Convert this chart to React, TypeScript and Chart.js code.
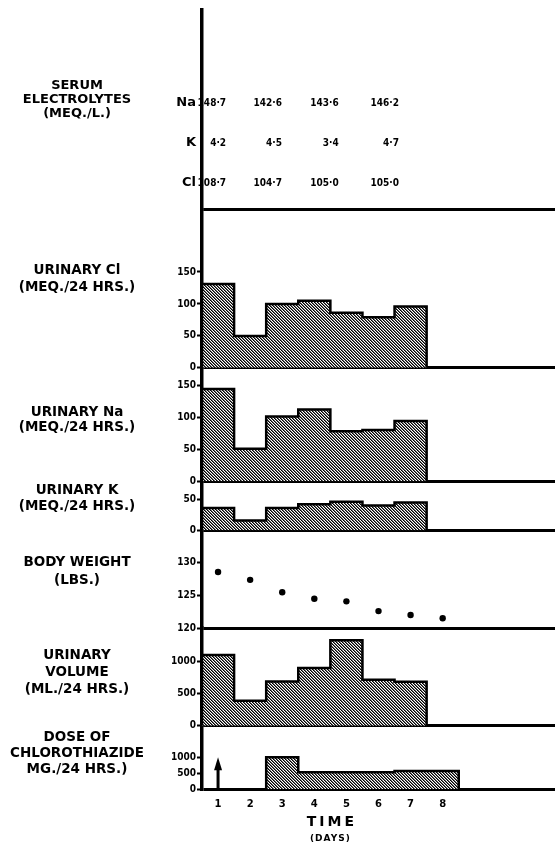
import React, { useEffect, useRef } from 'react';
import { Chart, registerables } from 'chart.js';

Chart.register(...registerables);

// ---------- data ----------
const dayTicks = [1, 2, 3, 4, 5, 6, 7, 8];
const urineDays = [1, 2, 3, 4, 5, 6, 7];
const urinaryCl = [131, 50, 100, 105, 86, 79, 96];
const urinaryNa = [144, 51, 101, 112, 78, 80, 94];
const urinaryK = [36, 16, 36, 42, 46, 40, 45];
const urinaryVolume = [1100, 390, 690, 900, 1330, 715, 685];
const weightDays = [1, 2, 3, 4, 5, 6, 7, 8];
const bodyWeight = [128.6, 127.4, 125.5, 124.5, 124.1, 122.6, 122.0, 121.5];
const doseDays = [3, 4, 5, 6, 7, 8];
const doseMg = [1000, 530, 530, 530, 570, 570];
const doseArrowDay = 1;
const doseArrowMg = 1000;

const serumRowLabels = ['Na', 'K', 'Cl'];
const serumNa = ['148·7', '142·6', '143·6', '146·2'];
const serumK = ['4·2', '4·5', '3·4', '4·7'];
const serumCl = ['108·7', '104·7', '105·0', '105·0'];
const serumDays = [1.25, 2.99, 4.76, 6.64];

const clTicks = [0, 50, 100, 150];
const naTicks = [0, 50, 100, 150];
const kTicks = [0, 50];
const bwTicks = [120, 125, 130];
const volTicks = [0, 500, 1000];
const doseTicks = [0, 500, 1000];

// ---------- layout / style ----------
const FONT = "'DejaVu Sans', sans-serif";
const COND_FONT = "'DejaVu Sans Condensed', 'DejaVu Sans', sans-serif";
const LABEL_X = 77;

const panelLabels = [
  { axis: 'serum', lines: ['SERUM', 'ELECTROLYTES', '(MEQ./L.)'], dy: 76, lh: 14, size: 13 },
  { axis: 'cl', lines: ['URINARY Cl', '(MEQ./24 HRS.)'], dy: 61, lh: 17, size: 13.5 },
  { axis: 'na', lines: ['URINARY Na', '(MEQ./24 HRS.)'], dy: 45, lh: 15, size: 13.5 },
  { axis: 'k', lines: ['URINARY K', '(MEQ./24 HRS.)'], dy: 9, lh: 16, size: 13.5 },
  { axis: 'bw', lines: ['BODY WEIGHT', '(LBS.)'], dy: 32, lh: 18, size: 13.5 },
  { axis: 'vol', lines: ['URINARY', 'VOLUME', '(ML./24 HRS.)'], dy: 27, lh: 17, size: 13.5 },
  { axis: 'dose', lines: ['DOSE OF', 'CHLOROTHIAZIDE', 'MG./24 HRS.)'], dy: 12, lh: 16, size: 13.5 },
];

function stepPoints(xs: number[], ys: number[]) {
  const pts: { x: number; y: number }[] = [];
  pts.push({ x: xs[0] - 0.5, y: 0 });
  for (let i = 0; i < xs.length; i++) {
    pts.push({ x: xs[i] - 0.5, y: ys[i] });
    pts.push({ x: xs[i] + 0.5, y: ys[i] });
  }
  pts.push({ x: xs[xs.length - 1] + 0.5, y: 0 });
  return pts;
}

function makeHatch(ctx: CanvasRenderingContext2D) {
  const c = document.createElement('canvas');
  c.width = 3;
  c.height = 3;
  const g = c.getContext('2d') as CanvasRenderingContext2D;
  g.fillStyle = '#fff';
  g.fillRect(0, 0, 3, 3);
  for (let y = 0; y < 3; y++) {
    for (let x = 0; x < 3; x++) {
      const m = (((x - y) % 3) + 3) % 3;
      if (m === 0) {
        g.fillStyle = '#000';
        g.fillRect(x, y, 1, 1);
      } else if (m === 1) {
        g.fillStyle = '#6a6a6a';
        g.fillRect(x, y, 1, 1);
      }
    }
  }
  return ctx.createPattern(c, 'repeat');
}

function yAxis(min: number, max: number, ticks: number[], weight: number, showTicks = true) {
  return {
    type: 'linear',
    position: 'left',
    stack: 'panels',
    stackWeight: weight,
    min,
    max,
    offset: false,
    z: 1,
    afterBuildTicks: (scale: any) => {
      scale.ticks = ticks.map((v) => ({ value: v }));
    },
    afterFit: (scale: any) => {
      scale.width = 50;
      scale.paddingTop = 0;
      scale.paddingBottom = 0;
      scale.paddingLeft = 0;
      scale.paddingRight = 0;
    },
    border: { display: true, color: '#000', width: 3.5 },
    grid: {
      display: true,
      drawOnChartArea: true,
      drawTicks: showTicks,
      tickLength: 5,
      tickWidth: 2,
      tickColor: '#000',
      lineWidth: 3,
      color: (ctx: any) => (ctx.tick && ctx.tick.value === min ? '#000' : 'rgba(0,0,0,0)'),
    },
    ticks: {
      display: showTicks,
      padding: 1,
      color: '#000',
      font: { family: COND_FONT, size: 10, weight: 'bold' },
      callback: (v: any) => String(v),
    },
  };
}

const textPlugin = {
  id: 'textPlugin',
  afterDraw(chart: any) {
    const ctx: CanvasRenderingContext2D = chart.ctx;
    const xs = chart.scales.x;
    const area = chart.chartArea;
    ctx.save();
    ctx.fillStyle = '#000';
    ctx.strokeStyle = '#000';

    // left panel labels
    ctx.textAlign = 'center';
    ctx.textBaseline = 'middle';
    for (const p of panelLabels) {
      const s = chart.scales[p.axis];
      ctx.font = `bold ${p.size}px ${FONT}`;
      p.lines.forEach((t, i) => ctx.fillText(t, LABEL_X, s.top + p.dy + i * p.lh));
    }

    // serum electrolytes table
    const serum = chart.scales.serum;
    const rowOffsets = [107, 67, 27];
    const rows = [serumNa, serumK, serumCl];
    ctx.font = `bold 13px ${FONT}`;
    ctx.textAlign = 'right';
    serumRowLabels.forEach((lab, r) => {
      ctx.fillText(lab, area.left - 6, serum.bottom - rowOffsets[r]);
    });
    ctx.font = `bold 10px ${COND_FONT}`;
    rows.forEach((vals, r) => {
      vals.forEach((v, j) => {
        ctx.fillText(v, xs.getPixelForValue(serumDays[j]), serum.bottom - rowOffsets[r]);
      });
    });

    // arrow in dose panel
    const dose = chart.scales.dose;
    const ax = xs.getPixelForValue(doseArrowDay);
    const y0 = dose.getPixelForValue(0);
    const y1 = dose.getPixelForValue(doseArrowMg);
    ctx.lineWidth = 3;
    ctx.beginPath();
    ctx.moveTo(ax, y0);
    ctx.lineTo(ax, y1 + 8);
    ctx.stroke();
    ctx.beginPath();
    ctx.moveTo(ax, y1);
    ctx.lineTo(ax - 4, y1 + 13);
    ctx.lineTo(ax + 4, y1 + 13);
    ctx.closePath();
    ctx.fill();

    // axis title
    const cx = xs.getPixelForValue(4.5);
    ctx.textAlign = 'center';
    ctx.font = `bold 14px ${FONT}`;
    (ctx as any).letterSpacing = '3px';
    ctx.fillText('TIME', cx + 1.5, area.bottom + 33);
    (ctx as any).letterSpacing = '1px';
    ctx.font = `bold 9px ${FONT}`;
    ctx.fillText('(DAYS)', cx, area.bottom + 50);
    (ctx as any).letterSpacing = '0px';
    ctx.restore();
  },
};

export default function App() {
  const ref = useRef<HTMLCanvasElement>(null);

  useEffect(() => {
    const canvas = ref.current as HTMLCanvasElement;
    const ctx = canvas.getContext('2d') as CanvasRenderingContext2D;
    const hatch = makeHatch(ctx);

    const area = (data: { x: number; y: number }[], axis: string) => ({
      type: 'line',
      data,
      yAxisID: axis,
      xAxisID: 'x',
      borderColor: '#000',
      borderWidth: 2.5,
      backgroundColor: hatch,
      fill: 'origin',
      pointRadius: 0,
      tension: 0,
      borderJoinStyle: 'miter',
      borderCapStyle: 'butt',
    });

    const chart = new Chart(ctx, {
      type: 'line',
      data: {
        datasets: [
          area(stepPoints(urineDays, urinaryCl), 'cl') as any,
          area(stepPoints(urineDays, urinaryNa), 'na') as any,
          area(stepPoints(urineDays, urinaryK), 'k') as any,
          area(stepPoints(urineDays, urinaryVolume), 'vol') as any,
          area(stepPoints(doseDays, doseMg), 'dose') as any,
          {
            type: 'line',
            data: weightDays.map((d, i) => ({ x: d, y: bodyWeight[i] })),
            yAxisID: 'bw',
            xAxisID: 'x',
            showLine: false,
            pointRadius: 3.2,
            pointBackgroundColor: '#000',
            pointBorderWidth: 0,
            fill: false,
          } as any,
        ],
      },
      options: {
        responsive: false,
        maintainAspectRatio: false,
        devicePixelRatio: 1,
        animation: false,
        events: [],
        layout: { autoPadding: false, padding: { top: 10, left: 152, right: 0, bottom: 0 } },
        plugins: {
          legend: { display: false },
          tooltip: { enabled: false },
          title: { display: false },
        },
        scales: {
          x: {
            type: 'linear',
            position: 'bottom',
            min: 0.5,
            max: 11.5,
            afterBuildTicks: (scale: any) => {
              scale.ticks = dayTicks.map((v) => ({ value: v }));
            },
            afterFit: (scale: any) => {
              scale.height = 54;
              scale.paddingLeft = 0;
              scale.paddingRight = 0;
            },
            border: { display: false },
            grid: { display: false, drawTicks: false },
            ticks: {
              padding: 9,
              color: '#000',
              maxRotation: 0,
              font: { family: FONT, size: 10, weight: 'bold' },
              callback: (v: any) => String(v),
            },
          },
          dose: yAxis(0, 2000, doseTicks, 63.3) as any,
          vol: yAxis(0, 1520, volTicks, 97.7) as any,
          bw: yAxis(120, 135, bwTicks, 97.8) as any,
          k: yAxis(0, 79, kTicks, 49) as any,
          na: yAxis(0, 177, naTicks, 113.5) as any,
          cl: yAxis(0, 247, clTicks, 158) as any,
          serum: yAxis(0, 1, [0], 200, false) as any,
        },
      },
      plugins: [textPlugin],
    });

    return () => chart.destroy();
  }, []);

  return (
    <div style={{ position: 'absolute', left: 0, top: 0, width: 555, height: 843, background: '#fff' }}>
      <canvas ref={ref} width={555} height={843} style={{ display: 'block', width: 555, height: 843 }} />
    </div>
  );
}
